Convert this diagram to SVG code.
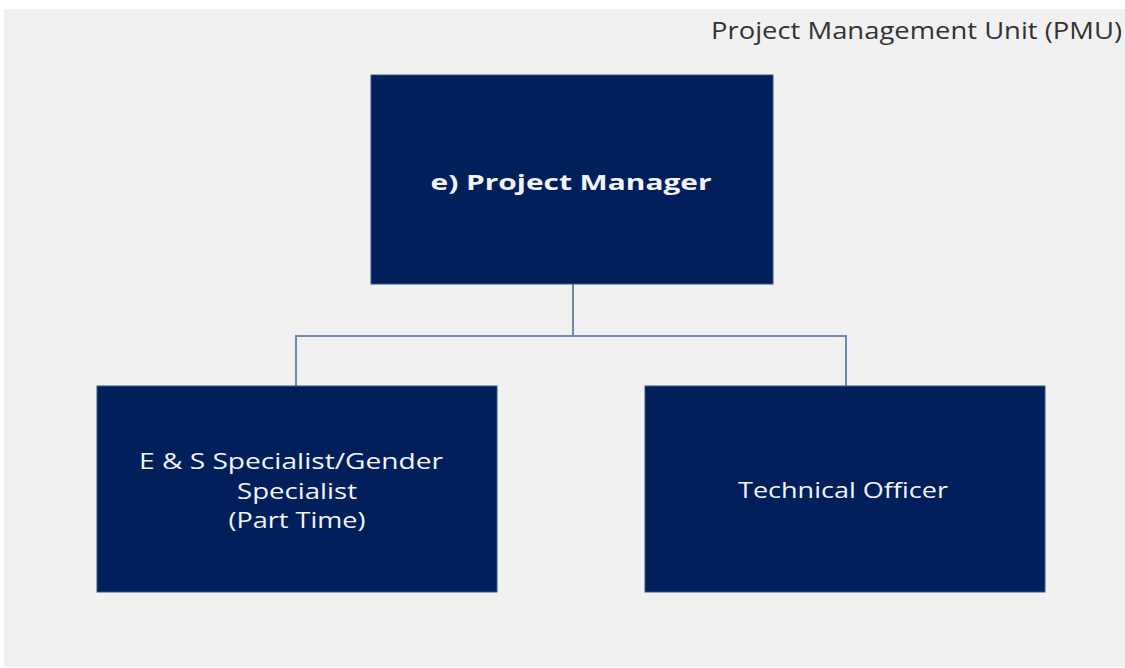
<svg xmlns="http://www.w3.org/2000/svg" width="1125" height="668" viewBox="0 0 1125 668">
<style>
.box{fill:#001f5b;stroke:#3a5488;stroke-width:1}
.lbl{font-family:"Open Sans","Liberation Sans",sans-serif;fill:#f2f4fa;text-anchor:middle;font-size:22px}
.conn{fill:none;stroke:#6f87b3;stroke-width:2}
</style>
<rect x="0" y="0" width="1125" height="668" fill="#ffffff"/>
<rect x="4" y="9" width="1121" height="658" fill="#f1f1f1"/>
<text x="1122" y="39" font-family="'Open Sans','Liberation Sans',sans-serif" font-size="23" fill="#333333" text-anchor="end" textLength="411" lengthAdjust="spacingAndGlyphs">Project Management Unit (PMU)</text>
<g id="connectors">
<path class="conn" d="M573 284 V336 M296 386 V336 H846 V386"/>
</g>
<g id="project-manager">
<rect class="box" x="371" y="75" width="402" height="209"/>
<text class="lbl" x="571" y="190" font-size="25" font-weight="bold" textLength="281" lengthAdjust="spacingAndGlyphs">e) Project Manager</text>
</g>
<g id="es-specialist">
<rect class="box" x="97" y="386" width="400" height="206"/>
<text class="lbl" x="291" y="469" textLength="304" lengthAdjust="spacingAndGlyphs">E &amp; S Specialist/Gender</text>
<text class="lbl" x="297" y="499" textLength="120" lengthAdjust="spacingAndGlyphs">Specialist</text>
<text class="lbl" x="297" y="528" textLength="137" lengthAdjust="spacingAndGlyphs">(Part Time)</text>
</g>
<g id="technical-officer">
<rect class="box" x="645" y="386" width="400" height="206"/>
<text class="lbl" x="843" y="498" textLength="210" lengthAdjust="spacingAndGlyphs">Technical Officer</text>
</g>
</svg>
